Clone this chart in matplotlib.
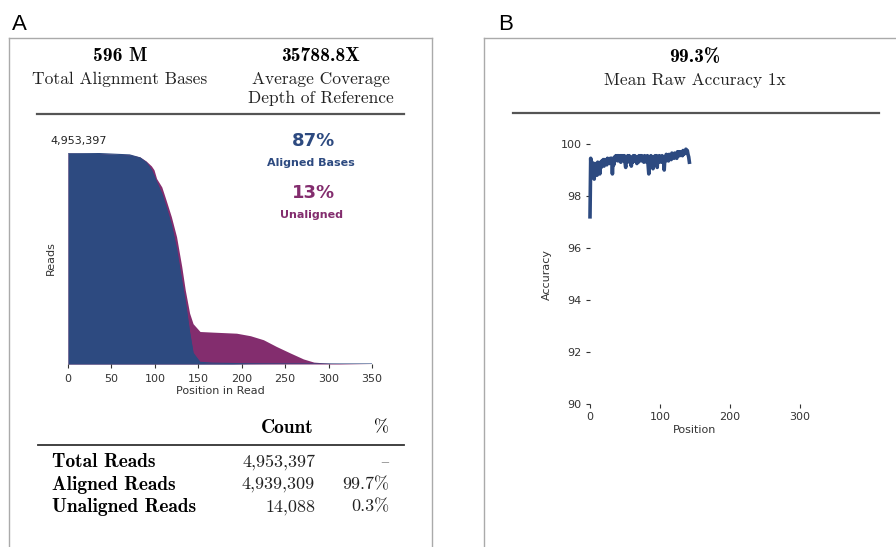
import numpy as np
import matplotlib
matplotlib.use("Agg")
import matplotlib.pyplot as plt
from matplotlib.lines import Line2D

W, H = 896, 547

# panel A: read length distribution (reads still covering each position)
positions = [0, 33, 71, 83, 90, 96, 99, 102, 108, 113, 119, 125, 131, 135, 140, 144,
             152, 167, 194, 210, 225, 240, 256, 271, 283, 302, 350]
total_reads = [4953397, 4943490, 4913770, 4859280, 4765170, 4650000, 4560000, 4354040,
               4155900, 3843840, 3457470, 2986900, 2283520, 1738640, 1193770, 946100,
               762820, 747960, 723200, 663760, 569640, 411130, 257580, 118880, 44580,
               14860, 0]
aligned_reads = [4953397, 4943490, 4908730, 4839470, 4730490, 4560000, 4420000, 4269830,
                 3997390, 3680370, 3269240, 2694650, 1941730, 1466210, 743010, 257580,
                 39630, 19810, 9910, 4950, 3000, 2000, 1000, 500, 200, 100, 0]

header_a = [("596 M", ["Total Alignment Bases"]),
            ("35788.8X", ["Average Coverage", "Depth of Reference"])]
table_rows = ["Total Reads", "Aligned Reads", "Unaligned Reads"]
table_counts = ["4,953,397", "4,939,309", "14,088"]
table_pct = ["\u2013", "99.7%", "0.3%"]

# panel B: accuracy per position (position 0 .. 142)
acc_val = [97.2, 99.45, 98.7, 99.3, 98.9, 99.2, 98.65, 99.25, 98.9, 99.2,
           98.8, 99.3, 99.0, 99.25, 98.85, 99.3, 99.1, 99.35, 99.2, 99.4,
           99.15, 99.4, 99.25, 99.4, 99.2, 99.45, 99.3, 99.4, 99.25, 99.45,
           99.3, 99.45, 98.85, 99.4, 99.2, 99.5, 99.35, 99.55, 99.4, 99.55,
           99.35, 99.55, 99.4, 99.55, 99.3, 99.55, 99.4, 99.55, 99.35, 99.55,
           99.3, 99.1, 99.5, 99.3, 99.55, 99.4, 99.55, 99.3, 99.5, 99.15,
           99.45, 99.3, 99.55, 99.35, 99.55, 99.4, 99.5, 99.25, 99.5, 99.3,
           99.55, 99.4, 99.55, 99.35, 99.55, 99.4, 99.5, 99.3, 99.55, 99.4,
           99.5, 99.3, 99.55, 99.2, 98.85, 99.5, 99.3, 99.55, 99.2, 99.5,
           99.05, 99.5, 99.3, 99.55, 99.4, 99.55, 99.1, 99.5, 99.3, 99.55,
           99.35, 99.5, 99.3, 99.55, 99.4, 99.5, 99.0, 99.5, 99.35, 99.6,
           99.4, 99.55, 99.35, 99.6, 99.45, 99.55, 99.4, 99.65, 99.5, 99.6,
           99.45, 99.65, 99.5, 99.6, 99.45, 99.7, 99.55, 99.7, 99.55, 99.7,
           99.6, 99.65, 99.55, 99.75, 99.6, 99.7, 99.65, 99.8, 99.7, 99.75,
           99.6, 99.5, 99.3]
acc_pos = list(range(len(acc_val)))

blue = "#2d4a80"
purple = "#832d6e"
grey_txt = "#333333"
serif = ["cmr10", "DejaVu Serif"]
serif_b = ["cmb10", "DejaVu Serif"]


def fx(x):
    return x / W


def fy(y):
    return 1 - y / H


def hline(fig, x0, x1, y, color, lw):
    fig.add_artist(Line2D([fx(x0), fx(x1)], [fy(y), fy(y)], color=color, lw=lw,
                          transform=fig.transFigure))


def vline(fig, x, y0, y1, color, lw):
    fig.add_artist(Line2D([fx(x), fx(x)], [fy(y0), fy(y1)], color=color, lw=lw,
                          transform=fig.transFigure))


fig = plt.figure(figsize=(W / 100, H / 100), dpi=100)

# panel frames
box = "#aaaaaa"
vline(fig, 9, 38, H, box, 1.0)
vline(fig, 432, 38, H, box, 1.0)
hline(fig, 9, 432, 38, box, 1.0)
vline(fig, 484, 38, H, box, 1.0)
hline(fig, 484, W, 38, box, 1.0)

fig.text(fx(12), fy(25), "A", fontsize=16, family="Liberation Sans", va="center")
fig.text(fx(498), fy(25), "B", fontsize=16, family="Liberation Sans", va="center")

# ---- panel A header ----
for (big, small), cx in zip(header_a, [120, 321]):
    fig.text(fx(cx), fy(56), big, family=serif_b, fontsize=14, ha="center", va="center")
    for i, s in enumerate(small):
        fig.text(fx(cx), fy(79 + 19 * i), s, family=serif, fontsize=12.5,
                 ha="center", va="center", color="#222222")
hline(fig, 37, 404, 114, "#555555", 1.6)

# ---- panel A plot ----
axa = fig.add_axes([fx(68), fy(364), 304 / W, 211 / H])
axa.fill_between(positions, 0, total_reads, color=purple, lw=0)
axa.fill_between(positions, 0, aligned_reads, color=blue, lw=0)
axa.plot(positions, aligned_reads, color=blue, lw=0.8)
axa.set_xlim(0, 350)
axa.set_ylim(0, total_reads[0])
for s in axa.spines.values():
    s.set_visible(False)
axa.set_yticks([])
axa.set_xticks(range(0, 351, 50))
axa.tick_params(axis="x", labelsize=8, colors=grey_txt, length=3, pad=4)
axa.set_xlabel("Position in Read", fontsize=8, color=grey_txt, labelpad=2)
axa.set_ylabel("Reads", fontsize=8, color=grey_txt, labelpad=9)
axa.text(-20, total_reads[0] * 1.055, f"{total_reads[0]:,}", fontsize=8,
         color="#222222", va="center", ha="left")

fig.text(fx(313), fy(141), "87%", fontsize=13, weight="bold", color=blue,
         ha="center", va="center")
fig.text(fx(311), fy(163), "Aligned Bases", fontsize=8, weight="bold", color=blue,
         ha="center", va="center")
fig.text(fx(313), fy(193), "13%", fontsize=13, weight="bold", color=purple,
         ha="center", va="center")
fig.text(fx(311), fy(215), "Unaligned", fontsize=8, weight="bold", color=purple,
         ha="center", va="center")

# ---- panel A table ----
fig.text(fx(314), fy(428), "Count", family=serif_b, fontsize=14, ha="right", va="center")
fig.text(fx(389), fy(428), "%", family=serif, fontsize=13, ha="right", va="center")
hline(fig, 38, 404, 445, "#333333", 1.3)
for i, (lab, cnt, pct) in enumerate(zip(table_rows, table_counts, table_pct)):
    y = 462 + 22.5 * i
    fig.text(fx(52), fy(y), lab, family=serif_b, fontsize=14, ha="left", va="center")
    fig.text(fx(315), fy(y), cnt, family=serif, fontsize=13, ha="right", va="center",
             color="#222222")
    fig.text(fx(389), fy(y), pct, family=serif, fontsize=13, ha="right", va="center",
             color="#999999" if pct == "\u2013" else "#222222")

# ---- panel B header ----
fig.text(fx(695), fy(57), "99.3%", family=serif_b, fontsize=14, ha="center", va="center")
fig.text(fx(695), fy(80), "Mean Raw Accuracy 1x", family=serif, fontsize=12.5,
         ha="center", va="center", color="#222222")
hline(fig, 513, 879, 113, "#555555", 1.6)

# ---- panel B plot ----
axb = fig.add_axes([fx(590), fy(404), 210 / W, 260 / H])
axb.plot(acc_pos, acc_val, color=blue, lw=2.6, clip_on=False)
axb.set_xlim(0, 300)
axb.set_ylim(90, 100)
for s in axb.spines.values():
    s.set_visible(False)
axb.set_xticks([0, 100, 200, 300])
axb.set_yticks([90, 92, 94, 96, 98, 100])
axb.tick_params(labelsize=8, colors=grey_txt, length=3, pad=3)
axb.set_xlabel("Position", fontsize=8, color=grey_txt, labelpad=2)
axb.set_ylabel("Accuracy", fontsize=8, color=grey_txt, labelpad=6)

fig.savefig("out.png", dpi=100)
